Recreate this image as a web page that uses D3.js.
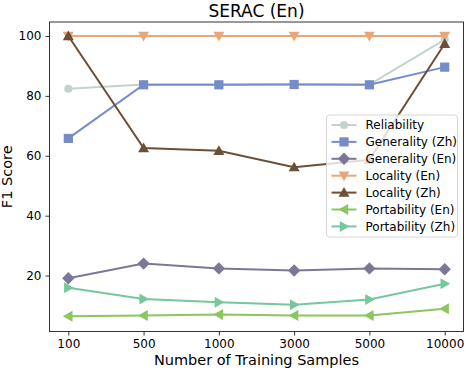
<!DOCTYPE html>
<html lang="en">
<head>
  <meta charset="UTF-8">
  <title>SERAC (En)</title>
  <script src="https://d3js.org/d3.v7.min.js"></script>
  <style>
    body { margin: 0; background: #fff; }
    text { font-family: "DejaVu Sans", sans-serif; }
  </style>
</head>
<body>
  <div id="root"></div>
  <script>
    const samples = ['100', '500', '1000', '3000', '5000', '10000'];
    const yTicks = [20, 40, 60, 80, 100];

    const reliability = [82.4, 83.8, 83.8, 83.9, 83.8, 98.8];
    const generalityZh = [65.8, 83.7, 83.7, 83.8, 83.7, 89.6];
    const generalityEn = [19.1, 24.0, 22.4, 21.7, 22.4, 22.1];
    const localityEn = [100, 100, 100, 100, 100, 100];
    const localityZh = [100, 62.6, 61.7, 56.2, 58.7, 97.4];
    const portabilityEn = [6.4, 6.7, 7.0, 6.7, 6.7, 8.9];
    const portabilityZh = [15.9, 12.2, 11.1, 10.3, 12.0, 17.3];

    const series = [
      { name: 'Reliability', values: reliability, color: '#c3d3cb', marker: 'circle' },
      { name: 'Generality (Zh)', values: generalityZh, color: '#758cc8', marker: 'square' },
      { name: 'Generality (En)', values: generalityEn, color: '#7a7896', marker: 'diamond' },
      { name: 'Locality (En)', values: localityEn, color: '#e8a77a', marker: 'down' },
      { name: 'Locality (Zh)', values: localityZh, color: '#6b4f36', marker: 'up' },
      { name: 'Portability (En)', values: portabilityEn, color: '#8cc65e', marker: 'left' },
      { name: 'Portability (Zh)', values: portabilityZh, color: '#76c79a', marker: 'right' }
    ];

    const width = 466, height = 370;
    const margin = { top: 22, right: 2.5, bottom: 38.5, left: 49.5 };

    const svg = d3.select('#root').append('svg')
      .attr('width', width).attr('height', height);

    const x = d3.scaleLinear()
      .domain([-0.25, samples.length - 0.75])
      .range([margin.left, width - margin.right]);
    const y = d3.scaleLinear()
      .domain([1.33, 104.67])
      .range([height - margin.bottom, margin.top]);

    // marker path around (0,0)
    function markerPath(type) {
      const s = 4.6;
      switch (type) {
        case 'circle': return d3.symbol(d3.symbolCircle, 52)();
        case 'square': return `M${-s},${-s}H${s}V${s}H${-s}Z`;
        case 'diamond': { const d = 6.2; return `M0,${-d}L${d},0L0,${d}L${-d},0Z`; }
        case 'down': return `M${-5.5},${-4.2}L${5.5},${-4.2}L0,${5.5}Z`;
        case 'up': return `M${-5.5},${4.2}L${5.5},${4.2}L0,${-5.5}Z`;
        case 'left': return `M${4.2},${-5.5}L${4.2},${5.5}L${-5.5},0Z`;
        case 'right': return `M${-4.2},${-5.5}L${-4.2},${5.5}L${5.5},0Z`;
      }
    }

    const line = d3.line()
      .x((d, i) => x(i))
      .y(d => y(d));

    const plot = svg.append('g');
    series.forEach(s => {
      const g = plot.append('g');
      g.append('path')
        .datum(s.values)
        .attr('d', line)
        .attr('fill', 'none')
        .attr('stroke', s.color)
        .attr('stroke-width', 2);
      g.selectAll('path.mk').data(s.values).enter()
        .append('path')
        .attr('class', 'mk')
        .attr('d', markerPath(s.marker))
        .attr('transform', (d, i) => `translate(${x(i)},${y(d)})`)
        .attr('fill', s.color);
    });

    // axes
    const xAxis = svg.append('g')
      .attr('transform', `translate(0,${height - margin.bottom})`)
      .call(d3.axisBottom(x).tickValues(d3.range(samples.length)).tickFormat(i => samples[i]).tickSize(4).tickPadding(4));
    const yAxis = svg.append('g')
      .attr('transform', `translate(${margin.left},0)`)
      .call(d3.axisLeft(y).tickValues(yTicks).tickSize(4).tickPadding(4));
    [xAxis, yAxis].forEach(a => {
      a.select('.domain').remove();
      a.selectAll('text').attr('font-size', 12).attr('fill', '#000')
        .attr('font-family', '"DejaVu Sans", sans-serif');
      a.selectAll('line').attr('stroke', '#333');
    });

    svg.append('rect')
      .attr('x', margin.left).attr('y', margin.top)
      .attr('width', width - margin.left - margin.right)
      .attr('height', height - margin.top - margin.bottom)
      .attr('fill', 'none').attr('stroke', '#333').attr('stroke-width', 1);

    svg.append('text')
      .attr('x', (margin.left + width - margin.right) / 2).attr('y', 17)
      .attr('text-anchor', 'middle').attr('font-size', 17)
      .text('SERAC (En)');
    svg.append('text')
      .attr('x', (margin.left + width - margin.right) / 2).attr('y', 365)
      .attr('text-anchor', 'middle').attr('font-size', 14.5)
      .text('Number of Training Samples');
    svg.append('text')
      .attr('transform', `translate(12,${(margin.top + height - margin.bottom) / 2}) rotate(-90)`)
      .attr('text-anchor', 'middle').attr('font-size', 14.5)
      .text('F1 Score');

    // legend
    const legend = svg.append('g').attr('transform', 'translate(326.5,115)');
    legend.append('rect')
      .attr('width', 131).attr('height', 122).attr('rx', 3)
      .attr('fill', 'rgba(255,255,255,0.8)').attr('stroke', '#d6d6d6');
    series.forEach((s, i) => {
      const row = legend.append('g').attr('transform', `translate(0,${10 + i * 16.9})`);
      row.append('line').attr('x1', 5).attr('x2', 30).attr('stroke', s.color).attr('stroke-width', 2);
      row.append('path').attr('d', markerPath(s.marker)).attr('transform', 'translate(17.5,0)').attr('fill', s.color);
      row.append('text').attr('x', 39).attr('dy', '0.35em').attr('font-size', 12).text(s.name);
    });
  </script>
</body>
</html>
